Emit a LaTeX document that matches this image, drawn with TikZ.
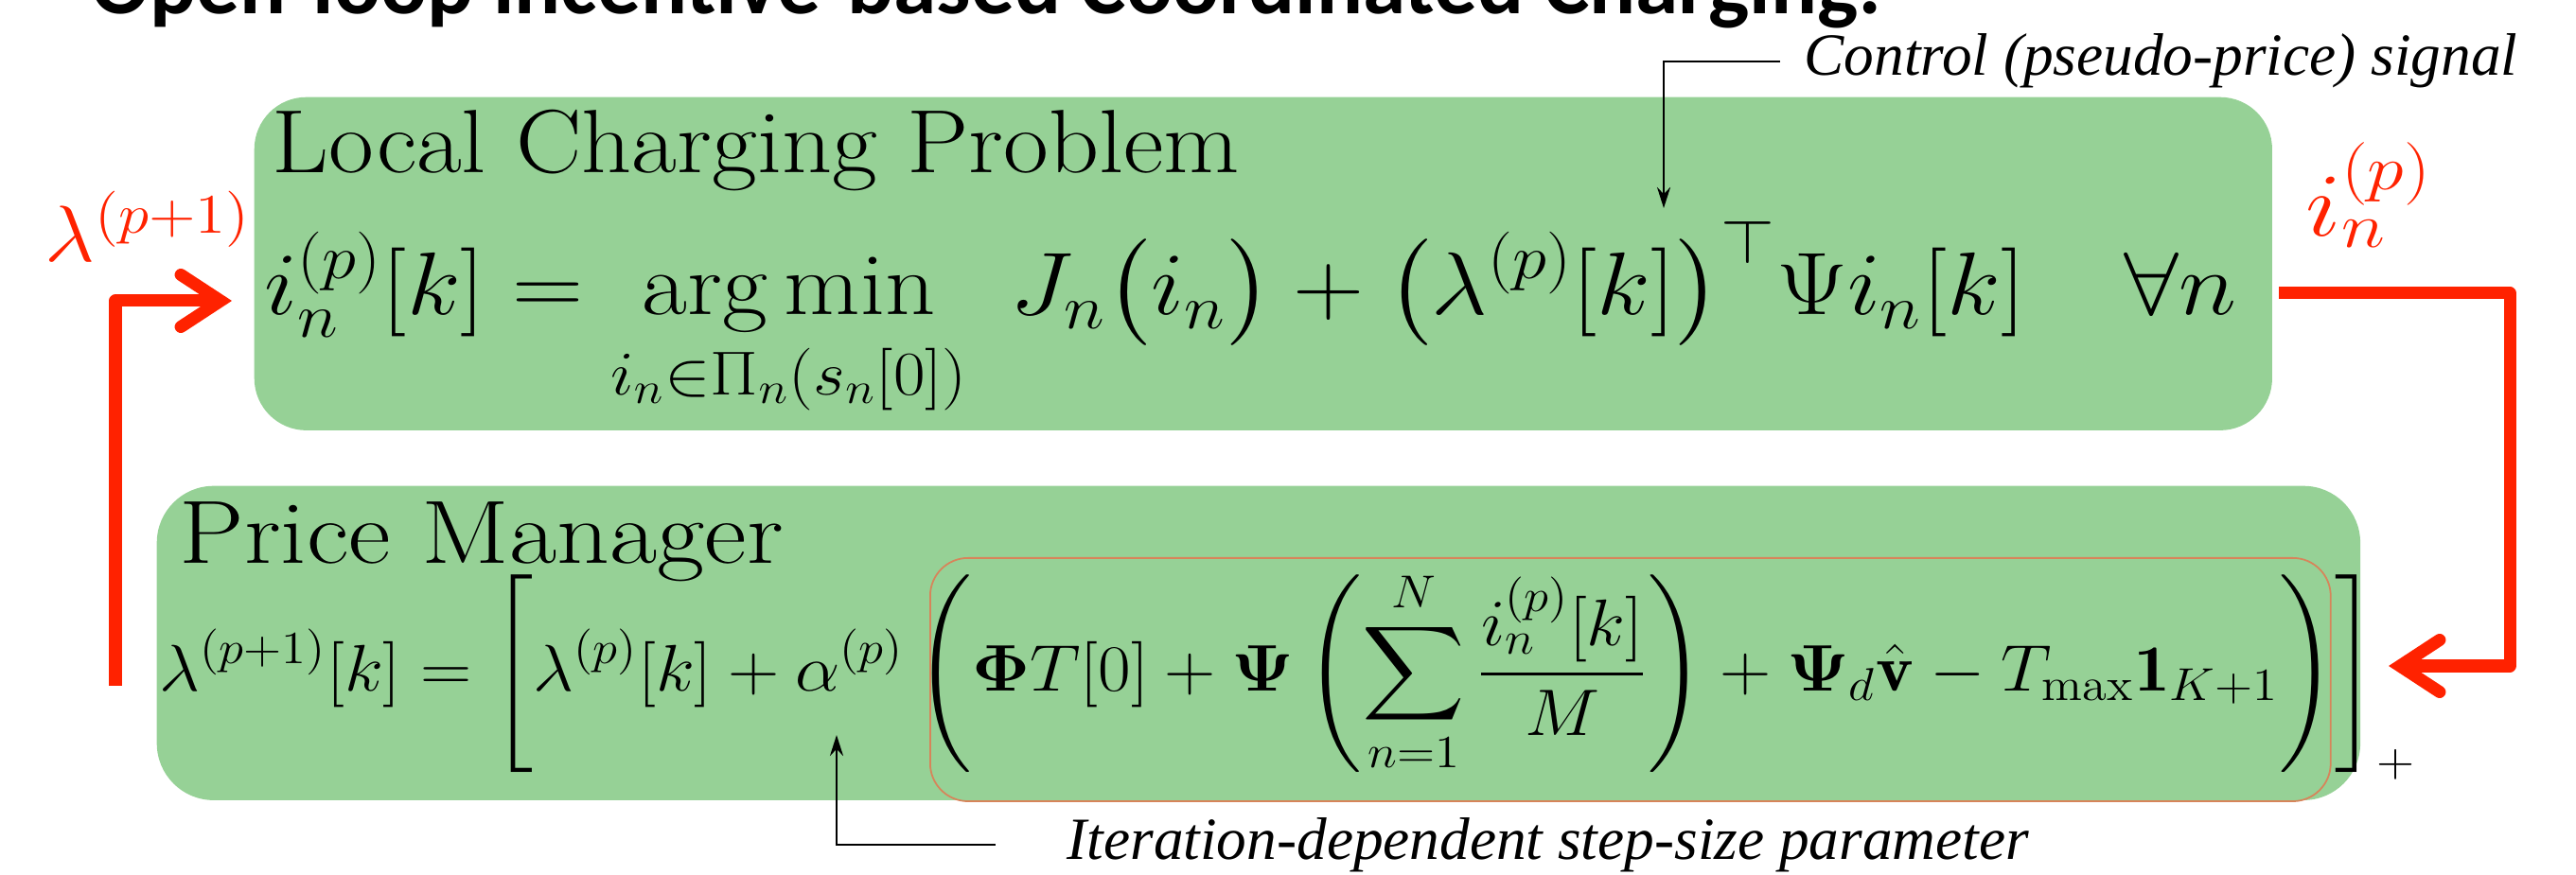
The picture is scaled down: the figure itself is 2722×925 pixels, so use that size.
\RequirePackage{fix-cm}
\documentclass[tikz,border=0pt]{standalone}
\usepackage{amsmath,amssymb}
\usepackage{fontspec}
\usepackage{xcolor}
\usepackage{tikz}
\usetikzlibrary{arrows.meta,positioning}
\newfontfamily\notefont{Liberation Serif}
\newfontfamily\headfont{Carlito}
\definecolor{boxgreen}{HTML}{96D196}
\definecolor{orangeline}{HTML}{D7845A}
\definecolor{loopred}{HTML}{FF2200}

\begin{document}
\begin{tikzpicture}[x=0.01cm,y=-0.01cm,
  greenbox/.style={fill=boxgreen,rounded corners=0.55cm,inner sep=0,anchor=north west},
  loopline/.style={loopred,line width=0.13cm,line join=round,
    -{Straight Barb[length=0.42cm,width=0.55cm,line cap=round,line join=miter]}},
  notearrow/.style={line width=0.7pt,-{Stealth[length=0.22cm,width=0.14cm]}},
  note/.style={font=\notefont\itshape\fontsize{18}{20}\selectfont,inner sep=0,anchor=base west}]
\useasboundingbox (0,0) rectangle (2722,925);
% slide title, cut off at the top
\begin{scope}
\clip (0,0) rectangle (2722,925);
\node[anchor=base west,inner sep=0,font=\headfont\bfseries\fontsize{26}{30}\selectfont] (slidetitle) at (96,15) {Open-loop incentive-based Coordinated Charging:};
\end{scope}
% the two blocks
\node[greenbox,minimum width=21.31cm,minimum height=3.52cm] (lcp) at (268,102) {};
\node[greenbox,rounded corners=0.6cm,minimum width=23.27cm,minimum height=3.32cm] (pm) at (165,513) {};
\node[draw=orangeline,line width=0.5pt,rounded corners=0.4cm,inner sep=0,anchor=north west,minimum width=14.79cm,minimum height=2.57cm] (grad) at (982,589) {};
\node[anchor=base west,inner sep=0,font=\fontsize{27}{30}\selectfont] (lcptitle) at (287,183) {\scalebox{1.095}[1]{Local Charging Problem}};
\node[anchor=base west,inner sep=0,font=\fontsize{27}{30}\selectfont] (pmtitle) at (189,595) {\scalebox{1.15}[1]{Price Manager}};
\node[anchor=base west,inner sep=0,font=\fontsize{26.7}{30}\selectfont] (lcpeq) at (279,333)
  {\scalebox{1.11}[1]{$\displaystyle i_n^{(p)}[k] = \mathop{\arg\min}_{i_n\in\Pi_n(s_n[0])}\; J_n\bigl(i_n\bigr) + \bigl(\lambda^{(p)}[k]\bigr)^{\top}\Psi i_n[k] \quad \forall n$}};
\node[anchor=base west,inner sep=0,font=\fontsize{19.8}{22}\selectfont] (pmeq) at (168,730)
  {\scalebox{1.08}[1]{$\displaystyle \lambda^{(p+1)}[k] = \left[\lambda^{(p)}[k] + \alpha^{(p)}\left(\boldsymbol{\Phi}T[0] + \boldsymbol{\Psi}\left(\sum_{n=1}^{N}\frac{i_n^{(p)}[k]}{M}\right) + \boldsymbol{\Psi}_d\hat{\mathbf{v}} - T_{\max}\mathbf{1}_{K+1}\right)\right]_+$}};
% red loop signals
\node[anchor=base west,inner sep=0,text=loopred,font=\fontsize{24}{28}\selectfont] (lamlabel) at (47,277) {\scalebox{1.1}[1]{$\lambda^{(p+1)}$}};
\node[anchor=base west,inner sep=0,text=loopred,font=\fontsize{27}{30}\selectfont] (ilabel) at (2436,250) {\scalebox{1.18}[1]{$i_n^{(p)}$}};
\coordinate (lamfrom) at (122,725);
\coordinate (lamto) at (245,318);
\draw[loopline] (lamfrom) |- (lamto);
\coordinate (iout) at (2408,310);
\coordinate (rbend) at (2652,704);
\coordinate (pmin) at (2524,704);
\draw[loopline] (iout) -| (rbend) -- (pmin);
% notes
\node[note] (ctrl) at (1906,80) {Control (pseudo-price) signal};
\coordinate (ctrltip) at (1758,220);
\draw[notearrow,shorten <=0.25cm] (ctrl.west) -| (ctrltip);
\node[note] (step) at (1127,908) {Iteration-dependent step-size parameter};
\coordinate (steptip) at (884,777);
\draw[notearrow,shorten <=0.75cm] (step.west) -| (steptip);
\end{tikzpicture}
\end{document}
